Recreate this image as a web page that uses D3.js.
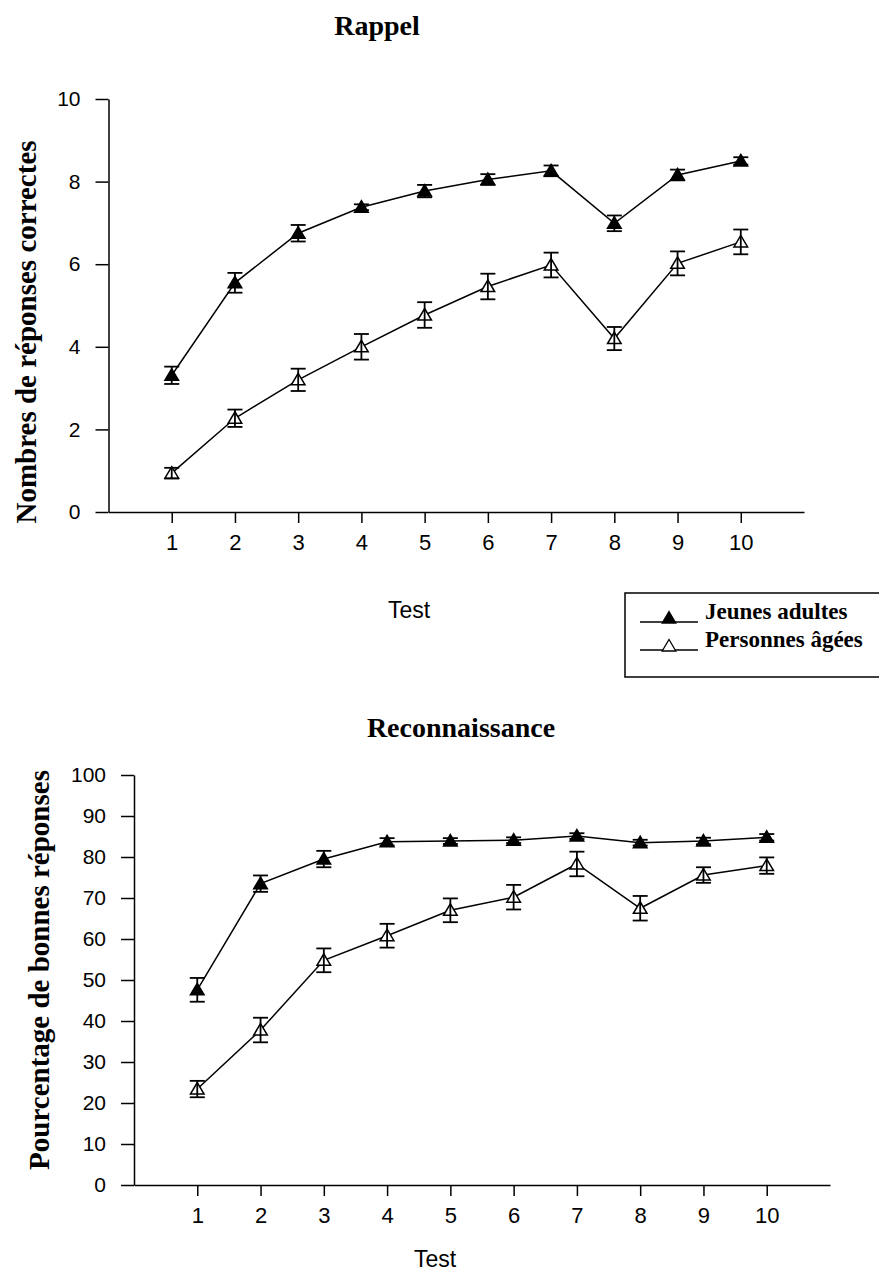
<!DOCTYPE html>
<html>
<head>
<meta charset="utf-8">
<script src="https://cdn.jsdelivr.net/npm/d3@7"></script>
<style>
  body { margin: 0; background: #fff; }
  svg { display: block; }
</style>
</head>
<body>
<svg id="chart" width="879" height="1273"></svg>
<script>
// Test sessions (x axis)
const tests = [1, 2, 3, 4, 5, 6, 7, 8, 9, 10];

// Rappel: number of correct answers (mean and error bar half-width)
const rappelJeunes    = [3.31, 5.55, 6.75, 7.38, 7.77, 8.05, 8.26, 6.99, 8.16, 8.50];
const rappelJeunesErr = [0.21, 0.24, 0.20, 0.07, 0.15, 0.13, 0.13, 0.19, 0.13, 0.09];
const rappelAgees     = [0.94, 2.27, 3.20, 4.00, 4.77, 5.46, 5.98, 4.20, 6.02, 6.54];
const rappelAgeesErr  = [0.13, 0.21, 0.27, 0.31, 0.31, 0.31, 0.30, 0.28, 0.29, 0.30];
const rappelTicks     = [0, 2, 4, 6, 8, 10];

// Reconnaissance: percentage of correct answers
const recoJeunes    = [47.6, 73.5, 79.5, 83.7, 83.9, 84.1, 85.1, 83.5, 83.9, 84.8];
const recoJeunesErr = [2.9, 2.0, 2.0, 0.9, 0.7, 0.7, 0.7, 0.7, 0.8, 0.8];
const recoAgees     = [23.4, 37.8, 54.8, 60.8, 67.0, 70.2, 78.3, 67.5, 75.6, 77.9];
const recoAgeesErr  = [2.0, 3.0, 2.9, 2.9, 2.9, 3.0, 3.0, 3.0, 1.9, 2.0];
const recoTicks     = [0, 10, 20, 30, 40, 50, 60, 70, 80, 90, 100];

const groupNames = ["Jeunes adultes", "Personnes âgées"];

const svg = d3.select("#chart");
const SANS = "'Liberation Sans', Arial, sans-serif";
const SERIF = "'Liberation Serif', 'Times New Roman', serif";

// Triangle marker centred on the data point
const triPath = "M0,-6.5L6.8,5L-6.8,5Z";

function drawPanel(p) {
  const x = d3.scaleLinear().domain([0, 11]).range([p.x0, p.x1]);
  const y = d3.scaleLinear().domain([0, p.yMax]).range([p.yBottom, p.yTop]);
  const g = svg.append("g");

  // Title
  g.append("text")
    .attr("x", p.titleX).attr("y", p.titleY)
    .attr("text-anchor", "middle")
    .style("font-family", SERIF).style("font-weight", "bold").style("font-size", "28px")
    .text(p.title);

  // Axes
  const xAxis = g.append("g")
    .attr("transform", `translate(0,${p.yBottom})`)
    .call(d3.axisBottom(x).tickValues(tests).tickSize(11).tickSizeOuter(0).tickPadding(11));
  const yAxis = g.append("g")
    .attr("transform", `translate(${p.x0},0)`)
    .call(d3.axisLeft(y).tickValues(p.yTicks).tickSize(13).tickSizeOuter(0).tickPadding(15));
  [xAxis, yAxis].forEach(a => {
    a.selectAll("path, line").attr("stroke", "#000").attr("stroke-width", 1.5);
    a.selectAll("text").attr("fill", "#000").style("font-family", SANS);
  });
  xAxis.selectAll("text").style("font-size", "22px");
  yAxis.selectAll("text").style("font-size", "21px");

  // Axis titles
  g.append("text")
    .attr("x", p.xTitleX).attr("y", p.xTitleY)
    .attr("text-anchor", "middle")
    .style("font-family", SANS).style("font-size", "23px")
    .text("Test");
  g.append("text")
    .attr("transform", `translate(${p.yTitleX},${p.yTitleY}) rotate(-90)`)
    .attr("text-anchor", "middle").attr("dy", "0.3em")
    .style("font-family", SERIF).style("font-weight", "bold").style("font-size", "29px")
    .text(p.yTitle);

  // Series
  p.series.forEach(s => {
    const pts = tests.map((t, i) => ({ t, v: s.values[i], e: s.err[i] }));
    g.append("path")
      .datum(pts)
      .attr("fill", "none").attr("stroke", "#000").attr("stroke-width", 1.5)
      .attr("d", d3.line().x(d => x(d.t)).y(d => y(d.v)));

    g.selectAll(null).data(pts).enter().append("path")
      .attr("transform", d => `translate(${x(d.t)},${y(d.v)})`)
      .attr("d", triPath)
      .attr("fill", s.filled ? "#000" : "#fff")
      .attr("stroke", "#000").attr("stroke-width", 1.5);

    const eb = g.selectAll(null).data(pts).enter().append("g")
      .attr("stroke", "#000").attr("stroke-width", 1.8);
    eb.append("line")
      .attr("x1", d => x(d.t)).attr("x2", d => x(d.t))
      .attr("y1", d => y(d.v - d.e)).attr("y2", d => y(d.v + d.e));
    eb.append("line")
      .attr("x1", d => x(d.t) - 7.5).attr("x2", d => x(d.t) + 7.5)
      .attr("y1", d => y(d.v + d.e)).attr("y2", d => y(d.v + d.e));
    eb.append("line")
      .attr("x1", d => x(d.t) - 7.5).attr("x2", d => x(d.t) + 7.5)
      .attr("y1", d => y(d.v - d.e)).attr("y2", d => y(d.v - d.e));
  });
}

drawPanel({
  title: "Rappel", titleX: 377, titleY: 35,
  yTitle: "Nombres de réponses correctes", yTitleX: 27, yTitleY: 332,
  xTitleX: 409, xTitleY: 618,
  x0: 108.5, x1: 804, yBottom: 512, yTop: 99, yMax: 10, yTicks: rappelTicks,
  series: [
    { values: rappelJeunes, err: rappelJeunesErr, filled: true },
    { values: rappelAgees, err: rappelAgeesErr, filled: false }
  ]
});

drawPanel({
  title: "Reconnaissance", titleX: 461, titleY: 737,
  yTitle: "Pourcentage de bonnes réponses", yTitleX: 40, yTitleY: 970,
  xTitleX: 435, xTitleY: 1267,
  x0: 134, x1: 830, yBottom: 1185, yTop: 775, yMax: 100, yTicks: recoTicks,
  series: [
    { values: recoJeunes, err: recoJeunesErr, filled: true },
    { values: recoAgees, err: recoAgeesErr, filled: false }
  ]
});

// Legend
const legend = svg.append("g");
legend.append("rect")
  .attr("x", 625).attr("y", 593).attr("width", 270).attr("height", 84)
  .attr("fill", "none").attr("stroke", "#000").attr("stroke-width", 1.5);
groupNames.forEach((name, i) => {
  const ly = 622 + i * 28;
  legend.append("line")
    .attr("x1", 640).attr("x2", 698).attr("y1", ly).attr("y2", ly)
    .attr("stroke", "#000").attr("stroke-width", 1.3);
  legend.append("path")
    .attr("transform", `translate(669,${ly - 4})`)
    .attr("d", triPath)
    .attr("fill", i === 0 ? "#000" : "#fff")
    .attr("stroke", "#000").attr("stroke-width", 1.3);
  legend.append("text")
    .attr("x", 705).attr("y", ly - 3)
    .style("font-family", SERIF).style("font-weight", "bold").style("font-size", "23px")
    .text(name);
});
</script>
</body>
</html>
